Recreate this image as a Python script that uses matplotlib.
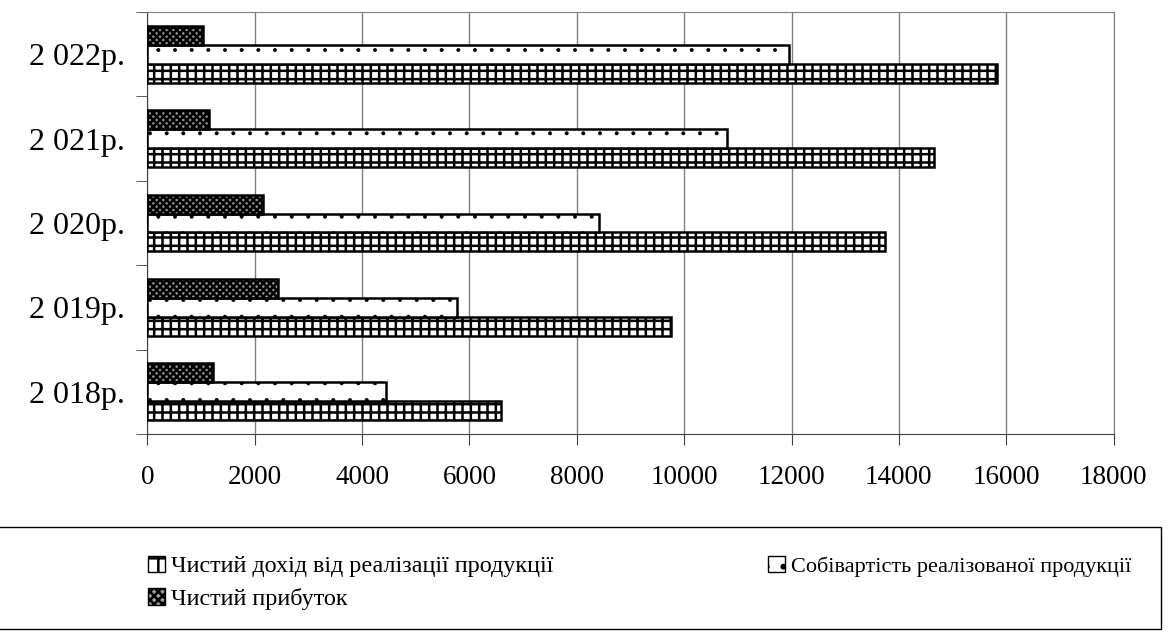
import matplotlib.pyplot as plt
import matplotlib.patches as mpatches
import numpy as np

plt.rcParams['font.family'] = ['Liberation Serif', 'DejaVu Serif']
plt.rcParams['hatch.linewidth'] = 1.8

# data
years = ['2 018р.', '2 019р.', '2 020р.', '2 021р.', '2 022р.']
revenue = [6580, 9750, 13750, 14650, 15820]
cost = [4440, 5770, 8420, 10790, 11960]
profit = [1215, 2440, 2160, 1150, 1030]

lbl_revenue = 'Чистий дохід від реалізації продукції'
lbl_cost = 'Собівартість реалізованої продукції'
lbl_profit = 'Чистий прибуток'

fig = plt.figure(figsize=(11.73, 6.32), dpi=100)
ax = fig.add_axes([0.1257, 0.3133, 0.8236, 0.6677])

y = np.arange(len(years))
h = 0.225

ax.barh(y - h, revenue, height=h, color='white', edgecolor='black',
        hatch='++', linewidth=1.8, zorder=3)
with plt.rc_context({'hatch.linewidth': 0.4}):
    ax.barh(y, cost, height=h, color='white', edgecolor='black',
            hatch='.', linewidth=1.8, zorder=3)
ax.barh(y + h, profit, height=h, color='#9a9a9a', edgecolor='black',
        hatch='xxxxx', linewidth=1.8, zorder=3)

ax.set_xlim(0, 18000)
ax.set_ylim(-0.5, len(years) - 0.5)
ax.set_xticks(np.arange(0, 18001, 2000))
ax.set_yticks(y)
ax.set_yticklabels(years)
ax.set_yticks(np.arange(-0.5, len(years), 1), minor=True)
ax.tick_params(axis='y', which='major', length=0, pad=16, labelsize=23)
ax.tick_params(axis='y', which='minor', length=8, direction='out', color='#404040')
ax.tick_params(axis='x', length=8, direction='out', pad=14, labelsize=19.5, color='#404040')

ax.grid(axis='x', color='#808080', linewidth=1, zorder=0)
ax.set_axisbelow(True)
for s in ['top', 'right']:
    ax.spines[s].set_color('#808080')
for s in ['left', 'bottom']:
    ax.spines[s].set_color('#404040')

# legend frame drawn separately, spans the full width
fig.patches.append(mpatches.Rectangle((-0.01, 0.005), 1.0, 0.161, transform=fig.transFigure,
                                      fill=False, edgecolor='black', linewidth=1.0))

# legend, row order: revenue, cost / profit
h_rev = mpatches.Patch(facecolor='white', edgecolor='black', hatch='+', label=lbl_revenue)
with plt.rc_context({'hatch.linewidth': 0.8}):
    h_cost = mpatches.Patch(facecolor='white', edgecolor='black', hatch='.', label=lbl_cost)
h_prof = mpatches.Patch(facecolor='#9a9a9a', edgecolor='black', hatch='xxxx', label=lbl_profit)
leg = fig.legend(handles=[h_rev, h_prof, h_cost], loc='upper left',
                 bbox_to_anchor=(0.126, 0.121), ncol=2,
                 fontsize=17.4, frameon=False,
                 handlelength=0.7, handleheight=0.7, handletextpad=0.25,
                 borderaxespad=0, labelspacing=0.45, borderpad=0, columnspacing=8.9)
leg.get_texts()[2].set_fontsize(16.0)

plt.savefig('out.png', dpi=100)
